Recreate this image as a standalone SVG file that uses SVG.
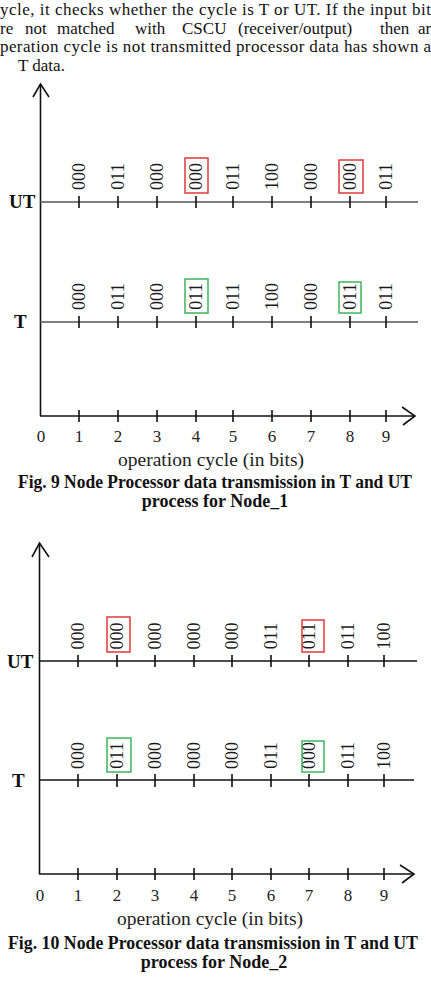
<svg xmlns="http://www.w3.org/2000/svg" width="431" height="990" viewBox="0 0 431 990">
<style>
.para{font-family:"Liberation Serif","Times New Roman",serif;font-size:17px;fill:#111}
.lab{font-family:"Liberation Serif","Times New Roman",serif;font-size:18px;fill:#1a1a1a;text-anchor:middle}
.num{font-family:"Liberation Serif","Times New Roman",serif;font-size:17px;fill:#222;text-anchor:middle}
.axl{font-family:"Liberation Serif","Times New Roman",serif;font-size:19px;font-weight:bold;fill:#111}
.xt{font-family:"Liberation Serif","Times New Roman",serif;font-size:19px;fill:#222;text-anchor:middle}
.cap{font-family:"Liberation Serif","Times New Roman",serif;font-size:18px;font-weight:bold;fill:#111;text-anchor:middle}
.ax{stroke:#111;stroke-width:1.6;fill:none}
.ln{stroke:#555;stroke-width:1.4;fill:none}
.tk{stroke:#111;stroke-width:1.6}
.red{fill:none;stroke:#e03a3a;stroke-width:1.5}
.grn{fill:none;stroke:#3cb45c;stroke-width:1.5}
</style>
<rect width="431" height="990" fill="#fff"/>
<g id="paragraph">
<text class="para" x="0" y="15" textLength="431" lengthAdjust="spacing">ycle, it checks whether the cycle is T or UT. If the input bit</text>
<text class="para" y="33.5"><tspan x="0">re</tspan><tspan x="25">not</tspan><tspan x="57">matched</tspan><tspan x="135">with</tspan><tspan x="182">CSCU</tspan><tspan x="238">(receiver/output)</tspan><tspan x="380">then</tspan><tspan x="418">ar</tspan></text>
<text class="para" x="0" y="52" textLength="431" lengthAdjust="spacing">peration cycle is not transmitted processor data has shown a</text>
<text class="para" x="18" y="70.5">T data.</text>
</g>
<g id="fig9">
<g id="fig9-axes">
<line class="ax" x1="40.5" y1="84" x2="40.5" y2="416"/>
<polyline class="ax" points="33,97 40.5,84 49,97"/>
<line class="ln" x1="40" y1="202" x2="418" y2="202"/>
<line class="ln" x1="40" y1="322" x2="418" y2="322"/>
<line class="ax" x1="40" y1="416" x2="414" y2="416" stroke-width="2"/>
<polyline class="ax" points="402,407 415,416 403,425"/>
<path class="tk" d="M79 196V208M118 196V208M157 196V208M196 196V208M233 196V208M272 196V208M311 196V208M350 196V208M386 196V208"/>
<path class="tk" d="M79 316V328M118 316V328M157 316V328M196 316V328M233 316V328M272 316V328M311 316V328M350 316V328M386 316V328"/>
<path class="tk" d="M79 410V422M118 410V422M157 410V422M196 410V422M233 410V422M272 410V422M311 410V422M350 410V422M386 410V422"/>
</g>
<text class="axl" x="9" y="208">UT</text>
<text class="axl" x="14" y="328">T</text>
<g id="fig9-ut">
<text class="lab" transform="translate(85,176.5) rotate(-90)">000</text>
<text class="lab" transform="translate(124,176.5) rotate(-90)">011</text>
<text class="lab" transform="translate(163,176.5) rotate(-90)">000</text>
<text class="lab" transform="translate(202,176.5) rotate(-90)">000</text>
<text class="lab" transform="translate(239,176.5) rotate(-90)">011</text>
<text class="lab" transform="translate(278,176.5) rotate(-90)">100</text>
<text class="lab" transform="translate(317,176.5) rotate(-90)">000</text>
<text class="lab" transform="translate(356,176.5) rotate(-90)">000</text>
<text class="lab" transform="translate(392,176.5) rotate(-90)">011</text>
<rect class="red" x="185" y="158" width="23" height="35"/>
<rect class="red" x="339" y="160" width="24" height="33"/>
</g>
<g id="fig9-t">
<text class="lab" transform="translate(85,296.5) rotate(-90)">000</text>
<text class="lab" transform="translate(124,296.5) rotate(-90)">011</text>
<text class="lab" transform="translate(163,296.5) rotate(-90)">000</text>
<text class="lab" transform="translate(202,296.5) rotate(-90)">011</text>
<text class="lab" transform="translate(239,296.5) rotate(-90)">011</text>
<text class="lab" transform="translate(278,296.5) rotate(-90)">100</text>
<text class="lab" transform="translate(317,296.5) rotate(-90)">000</text>
<text class="lab" transform="translate(356,296.5) rotate(-90)">011</text>
<text class="lab" transform="translate(392,296.5) rotate(-90)">011</text>
<rect class="grn" x="185" y="279" width="23" height="34"/>
<rect class="grn" x="339" y="282" width="22" height="31"/>
</g>
<g id="fig9-xnums">
<text class="num" x="41" y="442">0</text><text class="num" x="79" y="442">1</text><text class="num" x="118" y="442">2</text><text class="num" x="157" y="442">3</text><text class="num" x="196" y="442">4</text><text class="num" x="233" y="442">5</text><text class="num" x="272" y="442">6</text><text class="num" x="311" y="442">7</text><text class="num" x="350" y="442">8</text><text class="num" x="386" y="442">9</text>
</g>
<text class="xt" x="211" y="466" textLength="186" lengthAdjust="spacingAndGlyphs">operation cycle (in bits)</text>
<text class="cap" x="215" y="488" textLength="394" lengthAdjust="spacingAndGlyphs">Fig. 9 Node Processor data transmission in T and UT</text>
<text class="cap" x="215" y="507">process for Node_1</text>
</g>
<g id="fig10">
<g id="fig10-axes">
<line class="ax" x1="39.5" y1="543" x2="39.5" y2="874" stroke-width="2"/>
<polyline class="ax" points="32,557 39.5,543 49,557"/>
<line class="ax" x1="39" y1="661" x2="417" y2="661" stroke-width="1.5"/>
<line class="ax" x1="39" y1="780" x2="414" y2="780" stroke-width="2"/>
<line class="ax" x1="39" y1="874" x2="413" y2="874" stroke-width="2"/>
<polyline class="ax" points="400,865 414,874 402,883"/>
<path class="tk" d="M78 655V667M117 655V667M155 655V667M194 655V667M232 655V667M271 655V667M309 655V667M348 655V667M384 655V667"/>
<path class="tk" d="M78 774V787M117 774V787M155 774V787M194 774V787M232 774V787M271 774V787M309 774V787M348 774V787M384 774V787"/>
<path class="tk" d="M78 868V880M117 868V880M155 868V880M194 868V880M232 868V880M271 868V880M309 868V880M348 868V880M384 868V880"/>
</g>
<text class="axl" x="7" y="668">UT</text>
<text class="axl" x="12" y="787">T</text>
<g id="fig10-ut">
<text class="lab" transform="translate(84,636) rotate(-90)">000</text>
<text class="lab" transform="translate(123,636) rotate(-90)">000</text>
<text class="lab" transform="translate(161,636) rotate(-90)">000</text>
<text class="lab" transform="translate(200,636) rotate(-90)">000</text>
<text class="lab" transform="translate(238,636) rotate(-90)">000</text>
<text class="lab" transform="translate(277,636) rotate(-90)">011</text>
<text class="lab" transform="translate(315,636) rotate(-90)">011</text>
<text class="lab" transform="translate(354,636) rotate(-90)">011</text>
<text class="lab" transform="translate(390,636) rotate(-90)">100</text>
<rect class="red" x="107" y="617" width="23" height="35"/>
<rect class="red" x="302" y="620" width="22" height="32" stroke-width="2"/>
</g>
<g id="fig10-t">
<text class="lab" transform="translate(84,755.5) rotate(-90)">000</text>
<text class="lab" transform="translate(123,755.5) rotate(-90)">011</text>
<text class="lab" transform="translate(161,755.5) rotate(-90)">000</text>
<text class="lab" transform="translate(200,755.5) rotate(-90)">000</text>
<text class="lab" transform="translate(238,755.5) rotate(-90)">000</text>
<text class="lab" transform="translate(277,755.5) rotate(-90)">011</text>
<text class="lab" transform="translate(315,755.5) rotate(-90)">000</text>
<text class="lab" transform="translate(354,755.5) rotate(-90)">011</text>
<text class="lab" transform="translate(390,755.5) rotate(-90)">100</text>
<rect class="grn" x="107" y="738" width="24" height="34"/>
<rect class="grn" x="302" y="741" width="22" height="31" stroke-width="2"/>
</g>
<g id="fig10-xnums">
<text class="num" x="40" y="901">0</text><text class="num" x="78" y="901">1</text><text class="num" x="117" y="901">2</text><text class="num" x="155" y="901">3</text><text class="num" x="194" y="901">4</text><text class="num" x="232" y="901">5</text><text class="num" x="271" y="901">6</text><text class="num" x="309" y="901">7</text><text class="num" x="348" y="901">8</text><text class="num" x="384" y="901">9</text>
</g>
<text class="xt" x="210" y="925" textLength="186" lengthAdjust="spacingAndGlyphs">operation cycle (in bits)</text>
<text class="cap" x="213" y="949" textLength="410" lengthAdjust="spacingAndGlyphs">Fig. 10 Node Processor data transmission in T and UT</text>
<text class="cap" x="214" y="968">process for Node_2</text>
</g>
</svg>
